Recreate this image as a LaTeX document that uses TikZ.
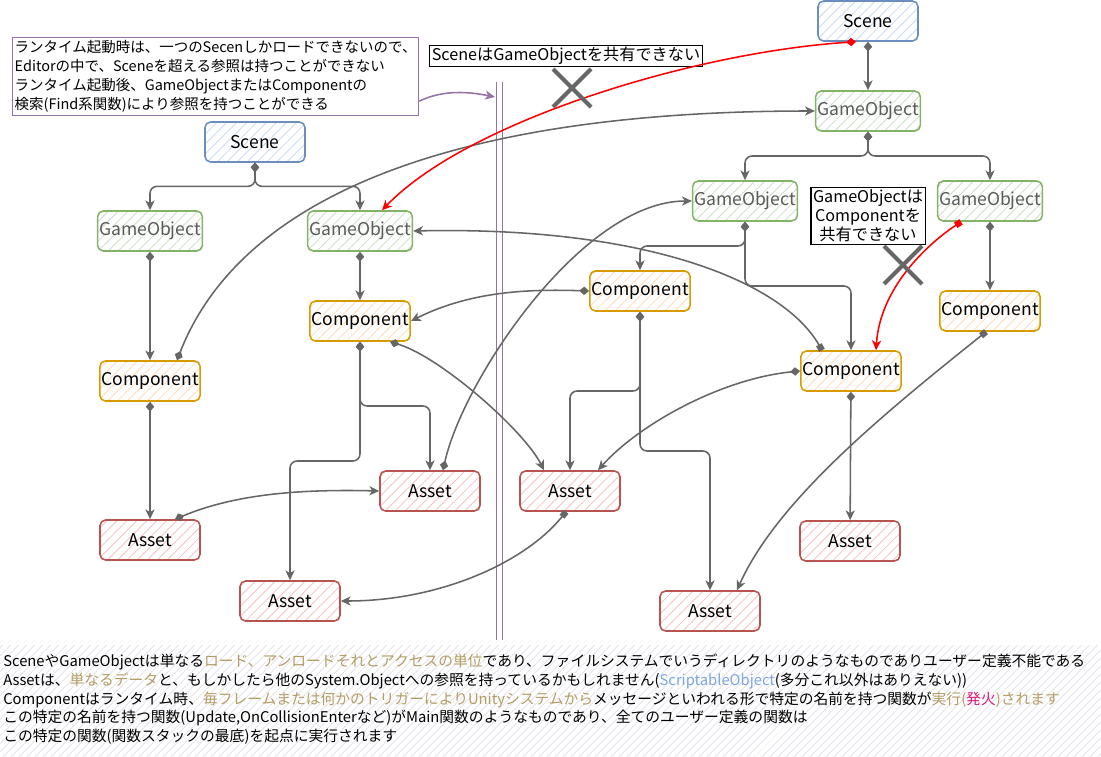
\documentclass[tikz,border=0pt]{standalone}
\usepackage{fontspec}
\setmainfont{Noto Sans CJK JP}
\usetikzlibrary{arrows.meta,calc,patterns.meta}

\definecolor{lnkgray}{HTML}{666666}
\definecolor{scnline}{HTML}{6C8EBF}
\definecolor{scnhatch}{HTML}{C9DCF5}
\definecolor{goline}{HTML}{82B366}
\definecolor{gohatch}{HTML}{CBE2C6}
\definecolor{gotext}{HTML}{5A5A5A}
\definecolor{cmpline}{HTML}{D79B00}
\definecolor{cmphatch}{HTML}{FFDDBB}
\definecolor{astline}{HTML}{B85450}
\definecolor{asthatch}{HTML}{F5C4C2}
\definecolor{wallpurple}{HTML}{9673A6}
\definecolor{bghatch}{HTML}{DCDAE4}
\definecolor{txtgold}{HTML}{B49D64}
\definecolor{txtblue}{HTML}{7EA6E0}
\definecolor{txtpink}{HTML}{D81B7A}

\begin{document}
\begin{tikzpicture}[x=0.025cm, y=-0.025cm,
    blk/.style={rounded corners=4pt, line width=1.1pt, minimum width=2.5cm,
      minimum height=1cm, inner sep=1pt, font=\fontsize{12.5}{15}\selectfont,
      preaction={fill=white}},
    scn/.style={blk, draw=scnline, pattern={Lines[angle=45,distance=5pt,line width=.6pt]}, pattern color=scnhatch},
    gobj/.style={blk, draw=goline, text=gotext, pattern={Lines[angle=45,distance=5pt,line width=.6pt]}, pattern color=gohatch},
    cmp/.style={blk, draw=cmpline, pattern={Lines[angle=45,distance=5pt,line width=.6pt]}, pattern color=cmphatch},
    ast/.style={blk, draw=astline, pattern={Lines[angle=45,distance=5pt,line width=.6pt]}, pattern color=asthatch},
    lnk/.style={draw=lnkgray, line width=1.1pt, {Diamond[length=7pt,width=6pt]}-{Stealth[length=7pt,width=6.5pt,inset=2pt]}},
    lnksq/.style={draw=lnkgray, line width=1.1pt, {Square[length=4.5pt,width=4.5pt]}-{Stealth[length=7pt,width=6.5pt,inset=2pt]}},
    redlnk/.style={lnk, draw=red},
    redlnksq/.style={lnksq, draw=red},
    tag/.style={draw, fill=white, line width=.8pt, inner sep=1.5pt, align=center,
      font=\fontsize{11.5}{13.5}\selectfont},
    cross/.style={draw=lnkgray, line width=3pt},
    wall/.style={draw=wallpurple, line width=.8pt, double=white, double distance=3pt}
  ]
    \fill[white] (0,0) rectangle (1101,757);
    \fill[pattern={Lines[angle=45,distance=4pt,line width=.5pt]}, pattern color=bghatch]
      (0,645) rectangle (1101,757);

    % left scene
    \node[scn] (sceneL) at (255,142) {Scene};
    \node[gobj] (goL1) at (150,231) {GameObject};
    \node[gobj] (goL2) at (360,231) {GameObject};
    \node[cmp] (cmpL1) at (150,381) {Component};
    \node[cmp] (cmpL2) at (360,321) {Component};
    \node[ast] (astL1) at (150,540) {Asset};
    \node[ast] (astL2) at (290,601) {Asset};
    \node[ast] (astL3) at (430,491) {Asset};
    % right scene
    \node[scn] (sceneR) at (868,21) {Scene};
    \node[gobj] (goR) at (868,111) {GameObject};
    \node[gobj] (goM1) at (745,201) {GameObject};
    \node[gobj] (goM2) at (990,201) {GameObject};
    \node[cmp] (cmpM1) at (640,291) {Component};
    \node[cmp] (cmpM2) at (851,371) {Component};
    \node[cmp] (cmpR) at (990,311) {Component};
    \node[ast] (astM) at (570,491) {Asset};
    \node[ast] (astR1) at (850,541) {Asset};
    \node[ast] (astR2) at (710,611) {Asset};

    % notes
    \node[draw=wallpurple, line width=.8pt, anchor=north west, align=left, inner sep=1pt,
      minimum width=10.15cm, minimum height=1.95cm, font=\fontsize{10.3}{13.5}\selectfont]
      (note) at (12,37) {ランタイム起動時は、一つのSecenしかロードできないので、\\
      Editorの中で、Sceneを超える参照は持つことができない\\
      ランタイム起動後、GameObjectまたはComponentの\\
      検索(Find系関数)により参照を持つことができる};
    \node[tag] (tagScene) at (566,56) {SceneはGameObjectを共有できない};
    \node[tag] (tagGo) at (868,216) {GameObjectは\\Componentを\\共有できない};

    % wall between scenes
    \coordinate (wallT) at (499.5,82);
    \coordinate (wallB) at (499.5,640);
    \coordinate (wallHit) at (495,97);
    \draw[wall] (wallT) -- (wallB);
    \draw[draw=wallpurple, line width=1.1pt, -{Stealth[length=7pt,width=6.5pt,inset=2pt]}]
      ($(note.south east)+(0,-15)$) .. controls +(25,-12) and +(-25,-5) .. (wallHit);

    % hierarchy
    \draw[lnk] (sceneR) -- (goR);
    \draw[lnk, rounded corners=5pt] (goR.south) |- ($(goR.south)!.5!(goM1.north)$) -| (goM1.north);
    \draw[lnk, rounded corners=5pt] (goR.south) |- ($(goR.south)!.5!(goM2.north)$) -| (goM2.north);
    \draw[lnk, rounded corners=5pt] (sceneL.south) |- ($(sceneL.south)!.5!(goL1.north)$) -| (goL1.north);
    \draw[lnk, rounded corners=5pt] (sceneL.south) |- ($(sceneL.south)!.5!(goL2.north)$) -| (goL2.north);
    \draw[lnk] (goL1) -- (cmpL1);
    \draw[lnk] (goL2) -- (cmpL2);
    \draw[lnk] (cmpL1) -- (astL1);
    \draw[lnk] (goM2) -- (cmpR);
    \draw[lnk] (cmpM2) -- (astR1);
    \draw[lnk, rounded corners=5pt] (goM1.south) |- ($(goM1.south)!.5!(cmpM1.north)$) -| (cmpM1.north);
    \draw[lnk, rounded corners=5pt] (goM1.south) |- ($(goM1.south)!.5!(cmpM2.north)$) -| (cmpM2.north);
    \draw[lnk, rounded corners=5pt] (cmpM1.south) |- ($(cmpM1.south)!.5!(astM.north)$) -| (astM.north);
    \draw[lnk, rounded corners=5pt] (cmpM1.south) |- ($(cmpM1.south)!.5!(astR2.north)$) -| (astR2.north);
    \draw[lnk, rounded corners=5pt] (cmpL2.south) |- ($(cmpL2.south)!.5!(astL3.north)$) -| (astL3.north);
    \draw[lnk, rounded corners=5pt] (cmpL2.south) |- ($(cmpL2.south)!.5!(astL2.north)$) -| (astL2.north);

    % references
    \draw[lnk] (cmpM1.west) .. controls +(-60,-2) and +(60,-30) .. (cmpL2.east);
    \draw[lnk] (cmpM2.west) .. controls +(-80,8) and +(40,-45) .. ($(astM.north)+(28,0)$);
    \draw[lnksq] ($(cmpM2.north)+(-29,0)$) .. controls +(-40,-70) and +(230,-5) .. (goL2.east);
    \draw[lnksq] ($(cmpR.south)+(-4,0)$) .. controls +(-100,80) and +(40,-90) .. ($(astR2.north)+(27,0)$);
    \draw[lnk] ($(cmpL1.north)+(27,0)$) .. controls +(63,-161) and +(-368,0) .. (goR.west);
    \draw[lnk] ($(cmpL2.south)+(30,0)$) .. controls +(50,15) and +(-20,-40) .. ($(astM.north)+(-26,0)$);
    \draw[lnk] ($(astL3.north)+(13,0)$) .. controls +(20,-90) and +(-110,0) .. (goM1.west);
    \draw[lnk] ($(astL1.north)+(25,0)$) .. controls +(60,-25) and +(-80,-2) .. (astL3.west);
    \draw[lnksq] ($(astM.south)+(-4,0)$) .. controls +(-40,50) and +(100,0) .. (astL2.east);

    % not shareable
    \draw[redlnk] ($(sceneR.south)+(-12,0)$) .. controls +(-157,10) and +(88,-91) .. ($(goL2.north)+(22,0)$);
    \draw[redlnksq] ($(goM2.south)+(-29,0)$) .. controls +(-36,24) and +(4,-61) .. ($(cmpM2.north)+(25,0)$);
    \draw[cross] (553,69) -- (591,107) (553,107) -- (591,69);
    \draw[cross] (884,246) -- (922,284) (884,284) -- (922,246);

    % explanation
    \node[anchor=north west, align=left, inner sep=0pt, font=\fontsize{10.5}{13.3}\selectfont]
      (desc) at (3,654) {%
      SceneやGameObjectは単なる\textcolor{txtgold}{ロード、アンロードそれとアクセスの単位}であり、ファイルシステムでいうディレクトリのようなものでありユーザー定義不能である\\
      Assetは、\textcolor{txtgold}{単なるデータ}と、もしかしたら他のSystem.Objectへの参照を持っているかもしれません(\textcolor{txtblue}{ScriptableObject}(多分これ以外はありえない))\\
      Componentはランタイム時、\textcolor{txtgold}{毎フレームまたは何かのトリガーによりUnityシステムから}メッセージといわれる形で特定の名前を持つ関数が\textcolor{txtgold}{実行(}\textcolor{txtpink}{発火}\textcolor{txtgold}{)されます}\\
      この特定の名前を持つ関数(Update,OnCollisionEnterなど)がMain関数のようなものであり、全てのユーザー定義の関数は\\
      この特定の関数(関数スタックの最底)を起点に実行されます};
  \end{tikzpicture}
\end{document}
